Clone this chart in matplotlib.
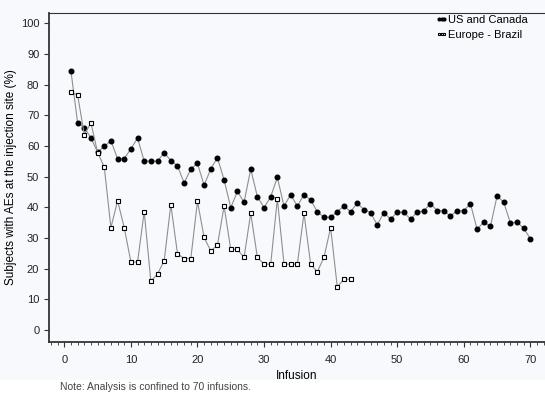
import numpy as np
import matplotlib.pyplot as plt
from matplotlib.patches import Rectangle
from matplotlib.ticker import MultipleLocator

# US and Canada, infusions 1-70
us_x = list(range(1, 71))
us_y = [84.4, 67.6, 66.0, 62.7, 58.0, 59.9, 61.7, 55.9, 55.9, 59.1,
        62.6, 55.1, 55.1, 55.1, 57.8, 55.3, 53.5, 48.0, 52.5, 54.4,
        47.2, 52.6, 56.2, 49.0, 39.9, 45.2, 41.7, 52.5, 43.5, 39.9,
        43.5, 49.8, 40.4, 44.2, 40.4, 44.2, 42.4, 38.6, 36.8, 36.8,
        38.6, 40.5, 38.6, 41.4, 39.3, 38.3, 34.3, 38.3, 36.2, 38.4,
        38.4, 36.2, 38.4, 38.9, 41.2, 38.9, 38.9, 37.2, 38.9, 38.9,
        41.2, 32.9, 35.2, 33.8, 43.7, 41.7, 34.9, 35.2, 33.2, 29.8]

# Europe - Brazil, infusions 1-43
eu_x = list(range(1, 44))
eu_y = [77.6, 76.7, 63.7, 67.6, 57.9, 53.2, 33.4, 42.2, 33.4, 22.2,
        22.2, 38.6, 15.9, 18.3, 22.6, 40.9, 24.9, 23.3, 23.3, 42.0,
        30.2, 25.8, 27.7, 40.4, 26.3, 26.3, 23.7, 38.1, 23.7, 21.5,
        21.5, 42.8, 21.5, 21.5, 21.5, 38.1, 21.5, 19.0, 23.7, 33.4,
        14.1, 16.6, 16.6]

bg = "#f7f9fd"
plt.rcParams['font.family'] = ['Liberation Sans', 'DejaVu Sans']

fig = plt.figure(figsize=(5.45, 3.94), dpi=100)
fig.patch.set_facecolor(bg)
# white strip behind the note
fig.patches.append(Rectangle((0, 0), 1, 0.035, transform=fig.transFigure,
                             facecolor="white", edgecolor="none", zorder=0))

ax = fig.add_axes([0.0899, 0.1327, 0.9101, 0.835])
ax.set_facecolor(bg)

ax.plot(us_x, us_y, color="#8f8f8f", lw=0.8, marker="o", ms=3.3,
        mfc="black", mec="black", label="US and Canada")
ax.plot(eu_x, eu_y, color="#8f8f8f", lw=0.8, marker="s", ms=3.2,
        mfc="white", mec="black", mew=0.8, label="Europe - Brazil")

ax.set_xlim(-2.3, 72.2)
ax.set_ylim(-3.8, 103.5)
ax.xaxis.set_major_locator(MultipleLocator(10))
ax.xaxis.set_minor_locator(MultipleLocator(1))
ax.yaxis.set_major_locator(MultipleLocator(10))

ax.spines['right'].set_visible(False)
ax.spines['top'].set_linewidth(0.8)
ax.spines['top'].set_color("#333333")
for s in ['left', 'bottom']:
    ax.spines[s].set_linewidth(1.3)
    ax.spines[s].set_color("#333333")

ax.tick_params(axis="both", which="major", length=3.5, width=0.8,
               labelsize=8, colors="#333333", labelcolor="#222222")
ax.tick_params(axis="x", which="minor", length=2, width=0.6, colors="#333333")
ax.tick_params(axis="x", pad=6)

ax.set_xlabel("Infusion", fontsize=8.5, labelpad=4)
ax.set_ylabel("Subjects with AEs at the injection site (%)", fontsize=8.5, labelpad=3)

ax.legend(loc="upper right", bbox_to_anchor=(0.985, 0.985), bbox_transform=fig.transFigure,
          frameon=False, numpoints=3, handlelength=1.0, handletextpad=0.1,
          markerscale=0.6, fontsize=8, labelspacing=0.45, borderpad=0.3)

fig.text(0.11, 0.017, "Note: Analysis is confined to 70 infusions.",
         fontsize=7.5, color="#444444", va="center",
         family=['Liberation Sans Narrow', 'Liberation Sans', 'DejaVu Sans'])

fig.savefig("out.png", dpi=100, facecolor=fig.get_facecolor())
